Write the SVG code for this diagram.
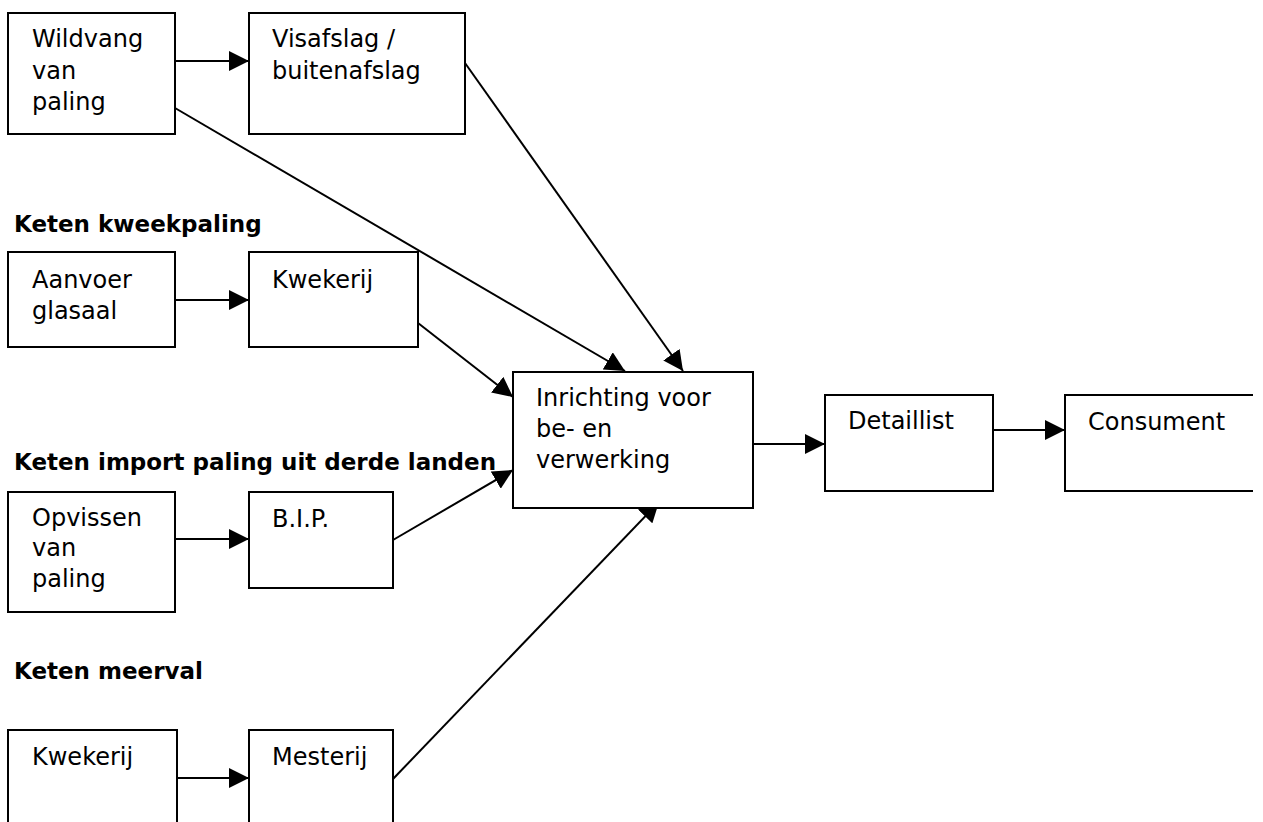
<svg xmlns="http://www.w3.org/2000/svg" width="1263" height="822" viewBox="0 0 1263 822">
<style>
.box{fill:#fff;stroke:#000;stroke-width:2}
.t{font-family:"DejaVu Sans","Liberation Sans",sans-serif;font-size:24px;fill:#000}
.h{font-family:"DejaVu Sans","Liberation Sans",sans-serif;font-size:23px;font-weight:bold;fill:#000}
.c{stroke:#000;stroke-width:2;fill:none;marker-end:url(#ah)}
</style>
<defs>
<marker id="ah" markerUnits="userSpaceOnUse" markerWidth="20" markerHeight="20" refX="20" refY="10" orient="auto" viewBox="0 0 20 20">
<path d="M0,0 L20,10 L0,20 z" fill="#000"/>
</marker>
</defs>
<rect width="1263" height="822" fill="#fff"/>
<text class="h" x="14" y="232">Keten kweekpaling</text>
<text class="h" x="14" y="470">Keten import paling uit derde landen</text>
<text class="h" x="14" y="679">Keten meerval</text>
<g id="connectors">
<line class="c" x1="175" y1="61" x2="249" y2="61"/>
<line class="c" x1="175" y1="108" x2="625" y2="371"/>
<line class="c" x1="465" y1="63" x2="683" y2="371"/>
<line class="c" x1="175" y1="300" x2="249" y2="300"/>
<line class="c" x1="418" y1="323" x2="513" y2="397"/>
<line class="c" x1="175" y1="539" x2="249" y2="539"/>
<line class="c" x1="393" y1="540" x2="513" y2="470"/>
<line class="c" x1="177" y1="778" x2="249" y2="778"/>
<line class="c" x1="393" y1="779" x2="659" y2="502"/>
<line class="c" x1="753" y1="444" x2="825" y2="444"/>
<line class="c" x1="993" y1="430" x2="1065" y2="430"/>
</g>
<g id="wildvang"><rect class="box" x="8" y="13" width="167" height="121"/>
<text class="t" x="32" y="47">Wildvang</text><text class="t" x="32" y="79">van</text><text class="t" x="32" y="110">paling</text></g>
<g id="visafslag"><rect class="box" x="249" y="13" width="216" height="121"/>
<text class="t" x="272" y="47">Visafslag /</text><text class="t" x="272" y="79">buitenafslag</text></g>
<g id="aanvoer"><rect class="box" x="8" y="252" width="167" height="95"/>
<text class="t" x="32" y="288">Aanvoer</text><text class="t" x="32" y="319">glasaal</text></g>
<g id="kwekerij1"><rect class="box" x="249" y="252" width="169" height="95"/>
<text class="t" x="272" y="288">Kwekerij</text></g>
<g id="inrichting"><rect class="box" x="513" y="372" width="240" height="136"/>
<text class="t" x="536" y="406">Inrichting voor</text><text class="t" x="536" y="437">be- en</text><text class="t" x="536" y="468">verwerking</text></g>
<g id="detaillist"><rect class="box" x="825" y="395" width="168" height="96"/>
<text class="t" x="848" y="429">Detaillist</text></g>
<g id="consument"><path class="box" d="M1253,395 H1065 V491 H1253"/>
<text class="t" x="1088" y="430">Consument</text></g>
<g id="opvissen"><rect class="box" x="8" y="492" width="167" height="120"/>
<text class="t" x="32" y="526">Opvissen</text><text class="t" x="32" y="556">van</text><text class="t" x="32" y="587">paling</text></g>
<g id="bip"><rect class="box" x="249" y="492" width="144" height="96"/>
<text class="t" x="272" y="527">B.I.P.</text></g>
<g id="kwekerij2"><rect class="box" x="8" y="730" width="169" height="110"/>
<text class="t" x="32" y="765">Kwekerij</text></g>
<g id="mesterij"><rect class="box" x="249" y="730" width="144" height="110"/>
<text class="t" x="272" y="765">Mesterij</text></g>
</svg>
